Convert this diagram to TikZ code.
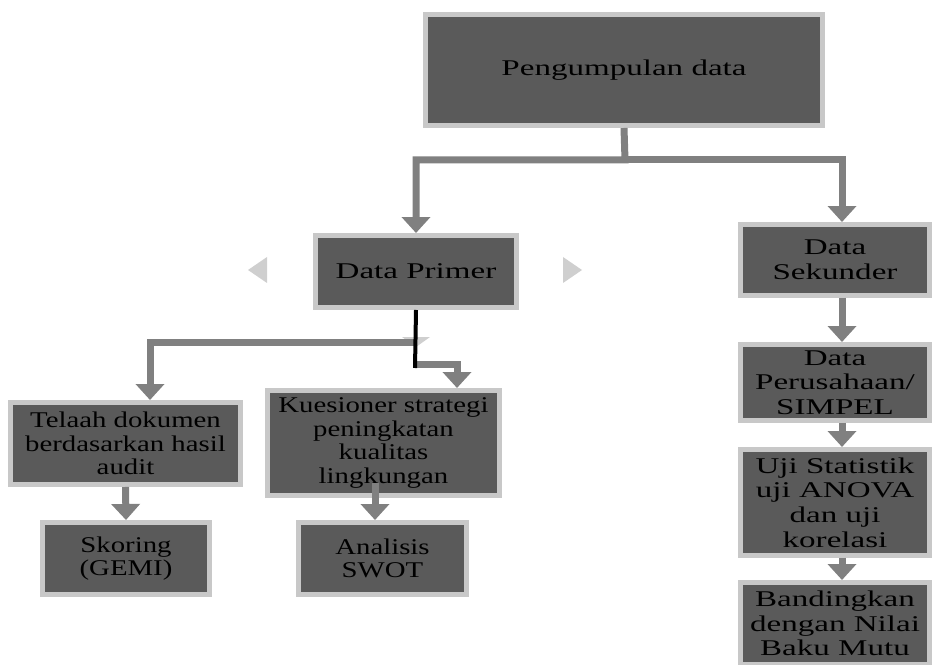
\documentclass[tikz,border=0pt]{standalone}
\usepackage{fontspec}
\setmainfont{Liberation Serif}[FakeStretch=1.47]
\newfontfamily\lowfont{Liberation Serif}[FakeStretch=1.28]
\usetikzlibrary{arrows.meta,positioning}
\definecolor{boxfill}{HTML}{5A5A5A}
\definecolor{boxrim}{HTML}{C8C8C8}
\definecolor{arrgray}{HTML}{808080}
\definecolor{trigray}{HTML}{CFCFCF}

\begin{document}
\begin{tikzpicture}[x=0.02cm,y=-0.02cm,font=\fontsize{12.8}{14}\selectfont,
  blk/.style={draw=boxrim,fill=boxfill,line width=0.1cm,inner sep=0pt,align=center,text=black},
  low/.style={blk,font=\lowfont\fontsize{12.8}{13.4}\selectfont},
  garrow/.style={draw=arrgray,line width=0.14cm,line join=miter,-{Triangle[width=0.56cm,length=0.32cm]}}]
\useasboundingbox (0,0) rectangle (932,665);
% boxes
\node[blk,minimum width=7.94cm,minimum height=2.22cm] (pd) at (624,70) {Pengumpulan data};
\node[blk,minimum width=4.02cm,minimum height=1.44cm] (dp) at (416,271.5) {Data Primer};
\node[blk,minimum width=3.78cm,minimum height=1.42cm] (ds) at (835,260) {Data\\Sekunder};
\node[blk,minimum width=3.78cm,minimum height=1.52cm] (dsim) at (835,382.5) {Data\\Perusahaan/\\SIMPEL};
\node[blk,minimum width=3.78cm,minimum height=2.12cm] (uji) at (835,502.5) {Uji Statistik\\uji ANOVA\\dan uji\\korelasi};
\node[blk,minimum width=3.78cm,minimum height=1.64cm] (bm) at (835,623.5) {Bandingkan\\dengan Nilai\\Baku Mutu};
\node[low,minimum width=4.6cm,minimum height=1.64cm] (tel) at (125.5,443.5) {Telaah dokumen\\berdasarkan hasil\\audit};
\node[low,minimum width=3.34cm,minimum height=1.44cm] (gemi) at (126,558.5) {Skoring\\(GEMI)};
\node[low,minimum width=4.64cm,minimum height=2.1cm] (kue) at (383.5,443) {Kuesioner strategi\\peningkatan\\kualitas\\lingkungan};
\node[low,minimum width=3.36cm,minimum height=1.44cm] (swot) at (382.5,558.5) {Analisis\\SWOT};
% helper points
\coordinate (split) at (625,160); \coordinate (rax) at (842,0); \coordinate (lax) at (150,0); \coordinate (kax) at (457,0);
\coordinate (pj) at (415,342); \coordinate (pk) at (415,364); \coordinate (pe) at (415,368); \coordinate (ks) at (375,483);
% side marks
\fill[trigray] (248,270)--(267,257)--(267,283)--cycle; \fill[trigray] (582,270)--(563,257)--(563,283)--cycle;
% connectors
\draw[garrow] (pd.south) -- (split) -| (dp.north);
\draw[garrow] (split) -| (ds.north -| rax);
\fill[trigray] (402,337)--(430,337)--(416,347)--cycle;
\draw[garrow] (pj) -| (tel.north -| lax);
\draw[garrow] (pk) -| (kue.north -| kax);
\draw[line width=0.08cm] (dp.south) -- (pe);
\draw[garrow] (tel.south) -- (gemi.north);
\draw[garrow] (ks) -- (swot.north -| ks);
\foreach \a/\b in {ds/dsim,dsim/uji,uji/bm} {\draw[garrow] (\a.south -| rax) -- (\b.north -| rax);}
\end{tikzpicture}
\end{document}
